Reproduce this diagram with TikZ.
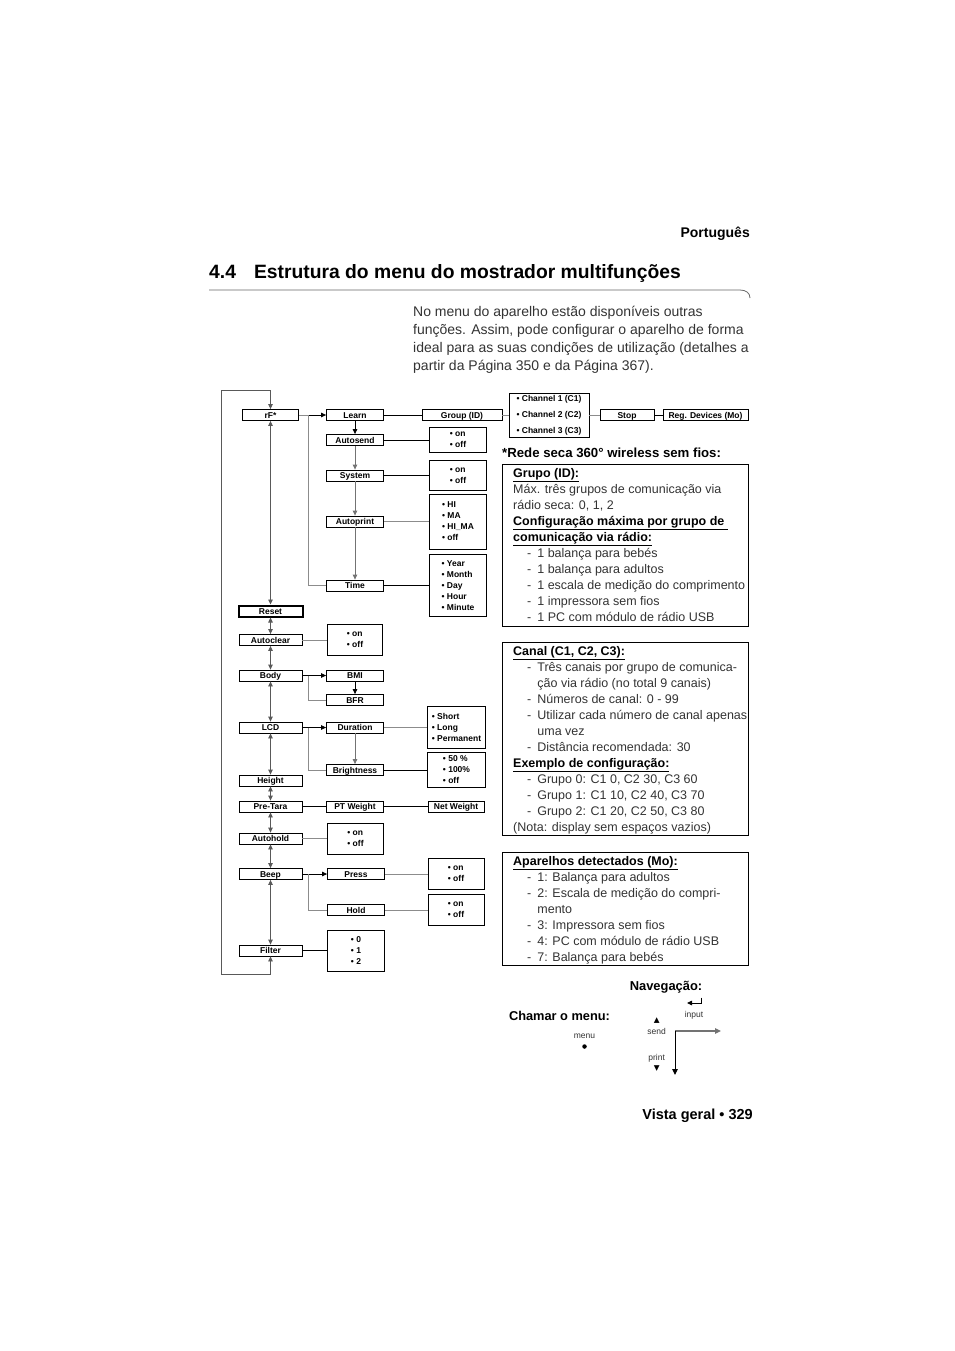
\documentclass[tikz,border=0pt]{standalone}
\usepackage{fontspec}
\setmainfont{Liberation Sans}
\newfontfamily\symfont{DejaVu Sans}
\usetikzlibrary{arrows.meta,positioning}

\newcommand{\itm}[1]{\hspace*{14pt}-\hspace*{6pt}#1}
\newcommand{\cnt}[1]{\hspace*{24.2pt}#1}
\newcommand{\hdl}[1]{{\color{black}\underline{\textbf{#1}}}}

\begin{document}
\begin{tikzpicture}[x=1pt,y=-1pt,
    mbox/.style={draw, line width=0.8pt, minimum height=11pt, inner sep=0pt, text height=6.1pt, text depth=0pt, font=\fontsize{8.5}{11}\selectfont\bfseries},
    lbox/.style={mbox, minimum width=63pt},
    cbox/.style={mbox, minimum width=57pt},
    obox/.style={draw, line width=0.8pt, minimum width=57pt, inner sep=0pt, align=left, font=\fontsize{8.5}{11}\selectfont\bfseries},
    ln/.style={line width=0.8pt},
    lng/.style={line width=1pt, black!45},
    arr/.style={-{Triangle[length=5pt,width=4.5pt]}, line width=0.8pt},
    darr/.style={{Triangle[length=5pt,width=4.5pt]}-{Triangle[length=5pt,width=4.5pt]}, line width=0.8pt, black!65},
    info/.style={anchor=north west, align=left, inner sep=0pt, font=\fontsize{12.5}{16}\selectfont, text=black!80},
    small/.style={font=\fontsize{8.5}{9}\selectfont, text=black!80},
    tri/.style={inner sep=0pt, font=\symfont\fontsize{7.5}{8}\selectfont}
]
\useasboundingbox (0,0) rectangle (954,1351);

% page head
\node[anchor=east, inner sep=0pt, font=\fontsize{14}{16}\selectfont\bfseries] (lang) at (750,234) {Português};
\node[anchor=west, inner sep=0pt, font=\fontsize{19.3}{22}\selectfont\bfseries] (ttl) at (209,273.5) {4.4\hspace*{18pt}Estrutura do menu do mostrador multifunções};
\draw[black!60, line width=0.8pt] (209,290) -- (740,290) .. controls (746,290) and (750,293) .. (750,298);
\node[anchor=north west, align=left, inner sep=0pt, font=\fontsize{14}{18}\selectfont, text=black!80] (intro) at (413,306)
  {No menu do aparelho estão disponíveis outras\\
   funções. Assim, pode configurar o aparelho de forma\\
   ideal para as suas condições de utilização (detalhes a\\
   partir da Página 350 e da Página 367).};

% main column
\node[lbox, minimum width=56pt] (rf) at (270.5,415) {rF*};
\node[lbox, minimum width=64pt, line width=2pt] (reset) at (270.5,611) {Reset};
\node[lbox] (aclr) at (270.5,640) {Autoclear};
\node[lbox] (body) at (270.5,675.5) {Body};
\node[lbox] (lcd) at (270.5,727.5) {LCD};
\node[lbox] (hgt) at (270.5,780.5) {Height};
\node[lbox] (ptara) at (270.5,806.5) {Pre-Tara};
\node[lbox] (ahold) at (270.5,838.5) {Autohold};
\node[lbox] (beep) at (270.5,874) {Beep};
\node[lbox] (filt) at (270.5,950.5) {Filter};

% sub menus
\node[cbox] (learn) at (355,415) {Learn};
\node[cbox] (asend) at (355,440) {Autosend};
\node[cbox] (sys) at (355,475.5) {System};
\node[cbox] (aprint) at (355,521.5) {Autoprint};
\node[cbox] (time) at (355,585.5) {Time};
\node[cbox] (bmi) at (355,675.5) {BMI};
\node[cbox] (bfr) at (355,700) {BFR};
\node[cbox] (dur) at (355,727.5) {Duration};
\node[cbox] (bright) at (355,770) {Brightness};
\node[cbox] (ptw) at (355,806.5) {PT Weight};
\node[cbox] (press) at (356,874) {Press};
\node[cbox] (hold) at (356,910) {Hold};

% rF* chain
\node[mbox, minimum width=80pt] (group) at (462,415) {Group (ID)};
\node[obox, minimum width=80pt, minimum height=44pt, font=\fontsize{8.5}{16}\selectfont\bfseries] (chan) at (549,415)
  {• Channel 1 (C1)\\• Channel 2 (C2)\\• Channel 3 (C3)};
\node[mbox, minimum width=54pt] (stop) at (627,415) {Stop};
\node[mbox, minimum width=85pt] (reg) at (705.5,415) {Reg. Devices (Mo)};

% options
\node[obox, minimum height=25pt] (asendo) at (458,440) {• on\\• off};
\node[obox, minimum height=30pt] (syso) at (458,475.5) {• on\\• off};
\node[obox, minimum height=55pt] (aprinto) at (458,521.5) {• HI\\• MA\\• HI\_MA\\• off};
\node[obox, minimum height=62pt] (timeo) at (458,585.5) {• Year\\• Month\\• Day\\• Hour\\• Minute};
\node[obox, minimum width=55pt, minimum height=31pt] (aclro) at (355,640) {• on\\• off};
\node[obox, minimum width=58pt, minimum height=42pt] (duro) at (456.5,727.5) {• Short\\• Long\\• Permanent};
\node[obox, minimum width=58pt, minimum height=35pt] (brighto) at (456.5,770) {• 50 \%\\• 100\%\\• off};
\node[mbox, minimum width=56pt] (netw) at (456,806.5) {Net Weight};
\node[obox, minimum width=56pt, minimum height=31pt] (aholdo) at (355.5,838.5) {• on\\• off};
\node[obox, minimum width=56pt, minimum height=31pt] (presso) at (456,874) {• on\\• off};
\node[obox, minimum width=56pt, minimum height=31pt] (holdo) at (456,910) {• on\\• off};
\node[obox, minimum height=41pt] (filto) at (356,950.5) {• 0\\• 1\\• 2};

% junctions
\coordinate (jrf) at (308,415);
\coordinate (jbody) at (308,675.5);
\coordinate (jlcd) at (308,727.5);
\coordinate (jbeep) at (308,874);
\coordinate (loopa) at (221,974);
\coordinate (loopb) at (221,390);

% main column links
\draw[darr] (rf) -- (reset);
\draw[darr] (reset) -- (aclr);
\draw[darr] (aclr) -- (body);
\draw[darr] (body) -- (lcd);
\draw[darr] (lcd) -- (hgt);
\draw[darr] (hgt) -- (ptara);
\draw[darr] (ptara) -- (ahold);
\draw[darr] (ahold) -- (beep);
\draw[darr] (beep) -- (filt);
\draw[darr] (filt) |- (loopa) -- (loopb) -| (rf);

% rF* branch
\draw[lng] (rf) -- (jrf);
\draw[arr] (jrf) -- (learn);
\draw[lng] (jrf) |- (time);
\draw[arr] (learn) -- (asend);
\draw[arr, black!55] (asend) -- (sys);
\draw[arr, black!55] (sys) -- (aprint);
\draw[arr, black!55] (aprint) -- (time);
\draw[ln] (learn) -- (group);
\draw[lng] (group) -- (chan);
\draw[lng] (chan) -- (stop);
\draw[ln] (stop) -- (reg);
\draw[ln] (asend) -- (asendo);
\draw[ln] (sys) -- (syso);
\draw[lng] (aprint) -- (aprinto);
\draw[ln] (time) -- (timeo);

% lower branches
\draw[lng] (aclr) -- (aclro);
\draw[ln] (body) -- (jbody);
\draw[arr] (jbody) -- (bmi);
\draw[lng] (jbody) |- (bfr);
\draw[arr] (bmi) -- (bfr);
\draw[ln] (lcd) -- (jlcd);
\draw[arr] (jlcd) -- (dur);
\draw[lng] (jlcd) |- (bright);
\draw[arr, black!55] (dur) -- (bright);
\draw[lng] (dur) -- (duro);
\draw[ln] (bright) -- (brighto);
\draw[ln] (ptara) -- (ptw);
\draw[ln] (ptw) -- (netw);
\draw[lng] (ahold) -- (aholdo);
\draw[ln] (beep) -- (jbeep);
\draw[arr] (jbeep) -- (press);
\draw[lng] (jbeep) |- (hold);
\draw[lng] (press) -- (presso);
\draw[lng] (hold) -- (holdo);
\draw[ln] (filt) -- (filto);

% notes on the right
\node[anchor=west, inner sep=0pt, font=\fontsize{13.2}{15}\selectfont\bfseries] (rede) at (502,453) {*Rede seca 360° wireless sem fios:};
\draw[ln] (502,464) rectangle (748,626);
\node[info] (grp) at (513,468)
  {\hdl{Grupo (ID):}\\
   Máx. três grupos de comunicação via\\
   rádio seca: 0, 1, 2\\
   \hdl{Configuração máxima por grupo de\ }\\
   \hdl{comunicação via rádio:}\\
   \itm{1 balança para bebés}\\
   \itm{1 balança para adultos}\\
   \itm{1 escala de medição do comprimento}\\
   \itm{1 impressora sem fios}\\
   \itm{1 PC com módulo de rádio USB}};
\draw[ln] (502,642) rectangle (748,835);
\node[info] (canal) at (513,646)
  {\hdl{Canal (C1, C2, C3):}\\
   \itm{Três canais por grupo de comunica-}\\
   \cnt{ção via rádio (no total 9 canais)}\\
   \itm{Números de canal: 0 - 99}\\
   \itm{Utilizar cada número de canal apenas}\\
   \cnt{uma vez}\\
   \itm{Distância recomendada: 30}\\
   \hdl{Exemplo de configuração:}\\
   \itm{Grupo 0: C1 0, C2 30, C3 60}\\
   \itm{Grupo 1: C1 10, C2 40, C3 70}\\
   \itm{Grupo 2: C1 20, C2 50, C3 80}\\
   (Nota: display sem espaços vazios)};
\draw[ln] (502,852) rectangle (748,965);
\node[info] (mo) at (513,856)
  {\hdl{Aparelhos detectados (Mo):}\\
   \itm{1: Balança para adultos}\\
   \itm{2: Escala de medição do compri-}\\
   \cnt{mento}\\
   \itm{3: Impressora sem fios}\\
   \itm{4: PC com módulo de rádio USB}\\
   \itm{7: Balança para bebés}};

% navigation
\node[font=\fontsize{12.9}{14}\selectfont\bfseries] (nav) at (666,987) {Navegação:};
\node[font=\fontsize{12.8}{14}\selectfont\bfseries] (call) at (559.5,1016) {Chamar o menu:};
\node[small] (menu) at (584.5,1036) {menu};
\node[circle, fill, inner sep=0pt, minimum size=4.5pt] (dot) at (584.5,1046.5) {};
\node[tri] (up) at (656.7,1021) {▲};
\node[small] (send) at (656.7,1031.5) {send};
\node[small] (print) at (656.7,1058) {print};
\node[tri] (down) at (656.7,1069) {▼};
\node[small] (input) at (694,1015.5) {input};
\coordinate (reta) at (701.5,997.5);
\coordinate (retb) at (701.5,1003);
\coordinate (retc) at (687,1003);
\draw[-{Triangle[length=5pt,width=4.5pt]}, line width=0.9pt] (reta) -- (retb) -- (retc);
\coordinate (navc) at (675,1031);
\coordinate (navr) at (721,1031);
\coordinate (navd) at (675,1075);
\draw[-{Triangle[length=6pt,width=5.5pt]}, black!55, line width=1.2pt] (navc) -- (navr);
\draw[-{Triangle[length=6pt,width=5.5pt]}, line width=1pt] (navc) -- (navd);

% page foot
\node[anchor=east, inner sep=0pt, font=\fontsize{14.5}{16}\selectfont\bfseries] (foot) at (753,1116) {Vista geral • 329};
\end{tikzpicture}
\end{document}
